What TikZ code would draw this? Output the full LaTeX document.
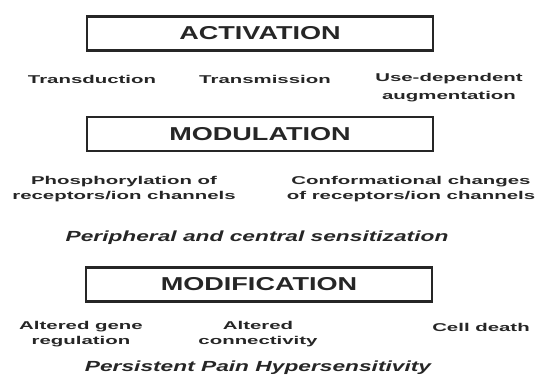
\documentclass[tikz,border=0pt]{standalone}
\usepackage{fontspec}
\setmainfont{Liberation Sans}
\newfontfamily\stagefont[FakeStretch=1.45]{Liberation Sans}
\newfontfamily\itemfont[FakeStretch=1.8]{Liberation Sans}
\newfontfamily\outcomefont[FakeStretch=1.55]{Liberation Sans}
\usetikzlibrary{positioning}
\tikzset{stage/.style={draw=black!85, line width=1.8pt, minimum width=259.5pt, minimum height=25.5pt, inner sep=0pt, font=\stagefont\bfseries\fontsize{14}{16}\selectfont, text=black!85}, item/.style={align=center, inner sep=0pt, font=\itemfont\bfseries\fontsize{8.5}{11}\selectfont, text=black!85}, outcome/.style={inner sep=0pt, font=\outcomefont\bfseries\itshape\fontsize{11}{13}\selectfont, text=black!85}}

\begin{document}
\begin{tikzpicture}[x=0.75pt, y=-0.75pt]
	\useasboundingbox (0,0) rectangle (538,387);
	% activation
	\node[stage] (Activation) at (260,33.5) {ACTIVATION};
	\node[item] (Transduction) at (92,79) {Transduction};
	\node[item] (Transmission) at (265,79) {Transmission};
	\node[item, anchor=north] (Use Dependent) at (449,73) {Use-dependent\\[2.5pt] augmentation};
	% modulation
	\node[stage] (Modulation) at (260,134) {MODULATION};
	\node[item] (Phosphorylation) at (124,189) {Phosphorylation of\\ receptors/ion channels};
	\node[item] (Conformational) at (411,189) {Conformational changes\\ of receptors/ion channels};
	\node[outcome] (Sensitization) at (257,238) {Peripheral and central sensitization};
	% modification
	\node[stage] (Modification) at (259,284.5) {MODIFICATION};
	\node[item] (Gene Regulation) at (81,334) {Altered gene\\ regulation};
	\node[item] (Connectivity) at (258,334) {Altered\\ connectivity};
	\node[item] (Cell Death) at (481,327) {Cell death};
	\node[outcome] (Hypersensitivity) at (258,368) {Persistent Pain Hypersensitivity};
\end{tikzpicture}
\end{document}
